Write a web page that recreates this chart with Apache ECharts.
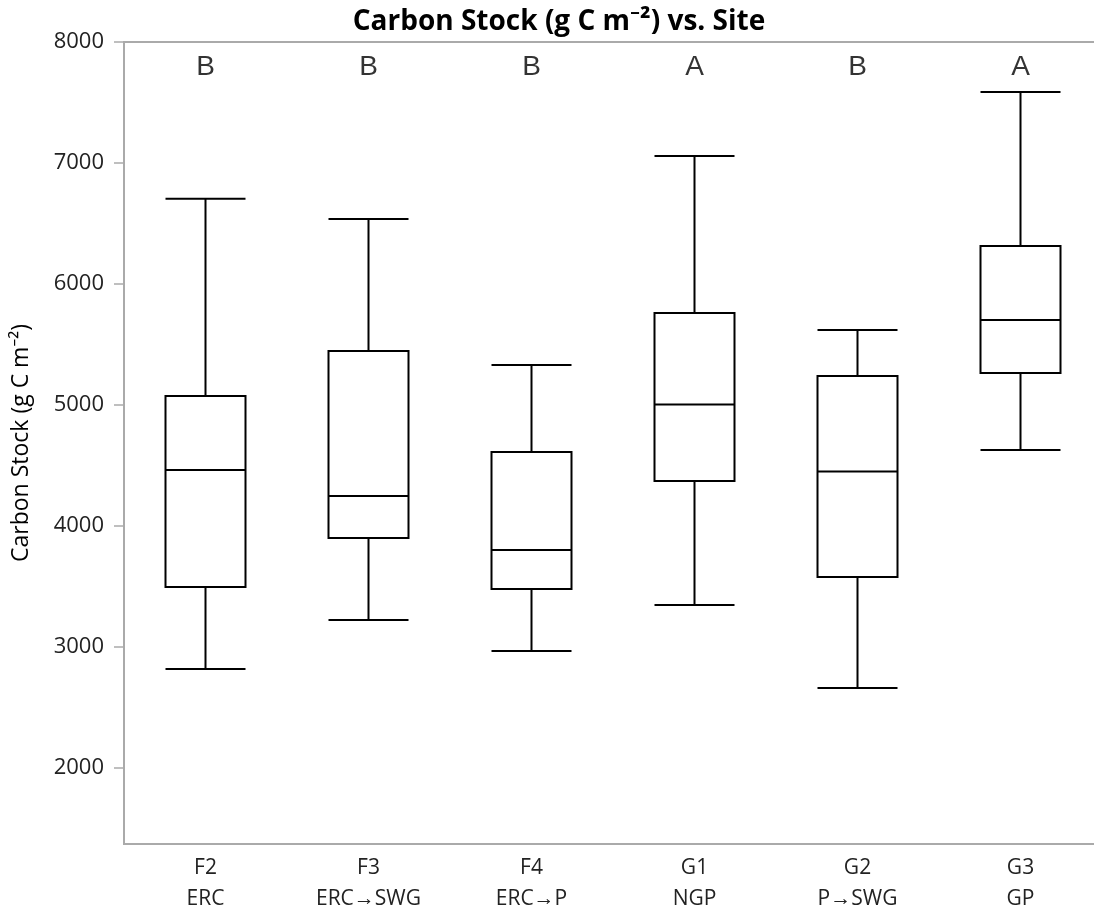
<!DOCTYPE html>
<html><head><meta charset="utf-8">
<script src="https://cdn.jsdelivr.net/npm/echarts@6/dist/echarts.min.js"></script>
<style>html,body{margin:0;padding:0;background:#fff}#c{width:1094px;height:911px}</style>
</head><body><div id="c"></div>
<script>
const sites = ['F2', 'F3', 'F4', 'G1', 'G2', 'G3'];
const treatments = ['ERC', 'ERC→SWG', 'ERC→P', 'NGP', 'P→SWG', 'GP'];
// [min, Q1, median, Q3, max]
const boxValues = [
  [2818, 3496, 4463, 5074, 6705],
  [3223, 3901, 4248, 5446, 6537],
  [2967, 3479, 3802, 4612, 5331],
  [3347, 4372, 5005, 5760, 7058],
  [2661, 3579, 4450, 5240, 5620],
  [4628, 5264, 5702, 6314, 7587]
];
const groupLetters = ['B', 'B', 'B', 'A', 'B', 'A'];
const letterLevel = 7790;
const yTicks = [2000, 3000, 4000, 5000, 6000, 7000, 8000];

const cats = sites.map((s, i) => s + '\n' + treatments[i]);
const chart = echarts.init(document.getElementById('c'), null, {renderer: 'canvas'});
const uiFont = '"Open Sans", "Noto Sans", sans-serif';
chart.setOption({
  animation: false,
  backgroundColor: '#fff',
  title: {
    text: 'Carbon Stock (g C m⁻²) vs. Site',
    left: 554, top: 3, textAlign: 'center',
    textStyle: {fontFamily: uiFont, fontWeight: 'bold', fontSize: 28, color: '#000'}
  },
  grid: {left: 124, width: 978, top: 42, height: 802, outerBoundsMode: 'none', containLabel: false,
    show: true, borderColor: '#aaa', borderWidth: 2, backgroundColor: 'transparent'},
  xAxis: {
    type: 'category', data: cats,
    axisLine: {show: false}, axisTick: {show: false}, splitLine: {show: false},
    axisLabel: {fontFamily: uiFont, fontSize: 21, color: '#222', lineHeight: 31, margin: 9}
  },
  yAxis: {
    type: 'value', min: 1372, max: 8000,
    name: 'Carbon Stock (g C m⁻²)', nameLocation: 'middle', nameGap: 91,
    nameTextStyle: {fontFamily: uiFont, fontSize: 23, color: '#000'},
    axisLine: {show: false},
    axisTick: {show: true, length: 10, lineStyle: {color: '#aaa', width: 1.5},
      customValues: yTicks},
    axisLabel: {fontFamily: uiFont, fontSize: 22, color: '#222', margin: 20,
      customValues: yTicks, formatter: v => String(v)},
    splitLine: {show: false}
  },
  series: [
    {
      type: 'boxplot', data: boxValues, boxWidth: [80, 80],
      itemStyle: {color: '#fff', borderColor: '#000', borderWidth: 2}
    },
    {
      type: 'scatter', symbolSize: 0,
      data: groupLetters.map((l, i) => [i, letterLevel, l]),
      label: {show: true, position: 'inside', formatter: p => p.data[2],
        fontFamily: '"Liberation Sans", Arial, sans-serif', fontSize: 28, color: '#000'}
    }
  ]
});
</script></body></html>
